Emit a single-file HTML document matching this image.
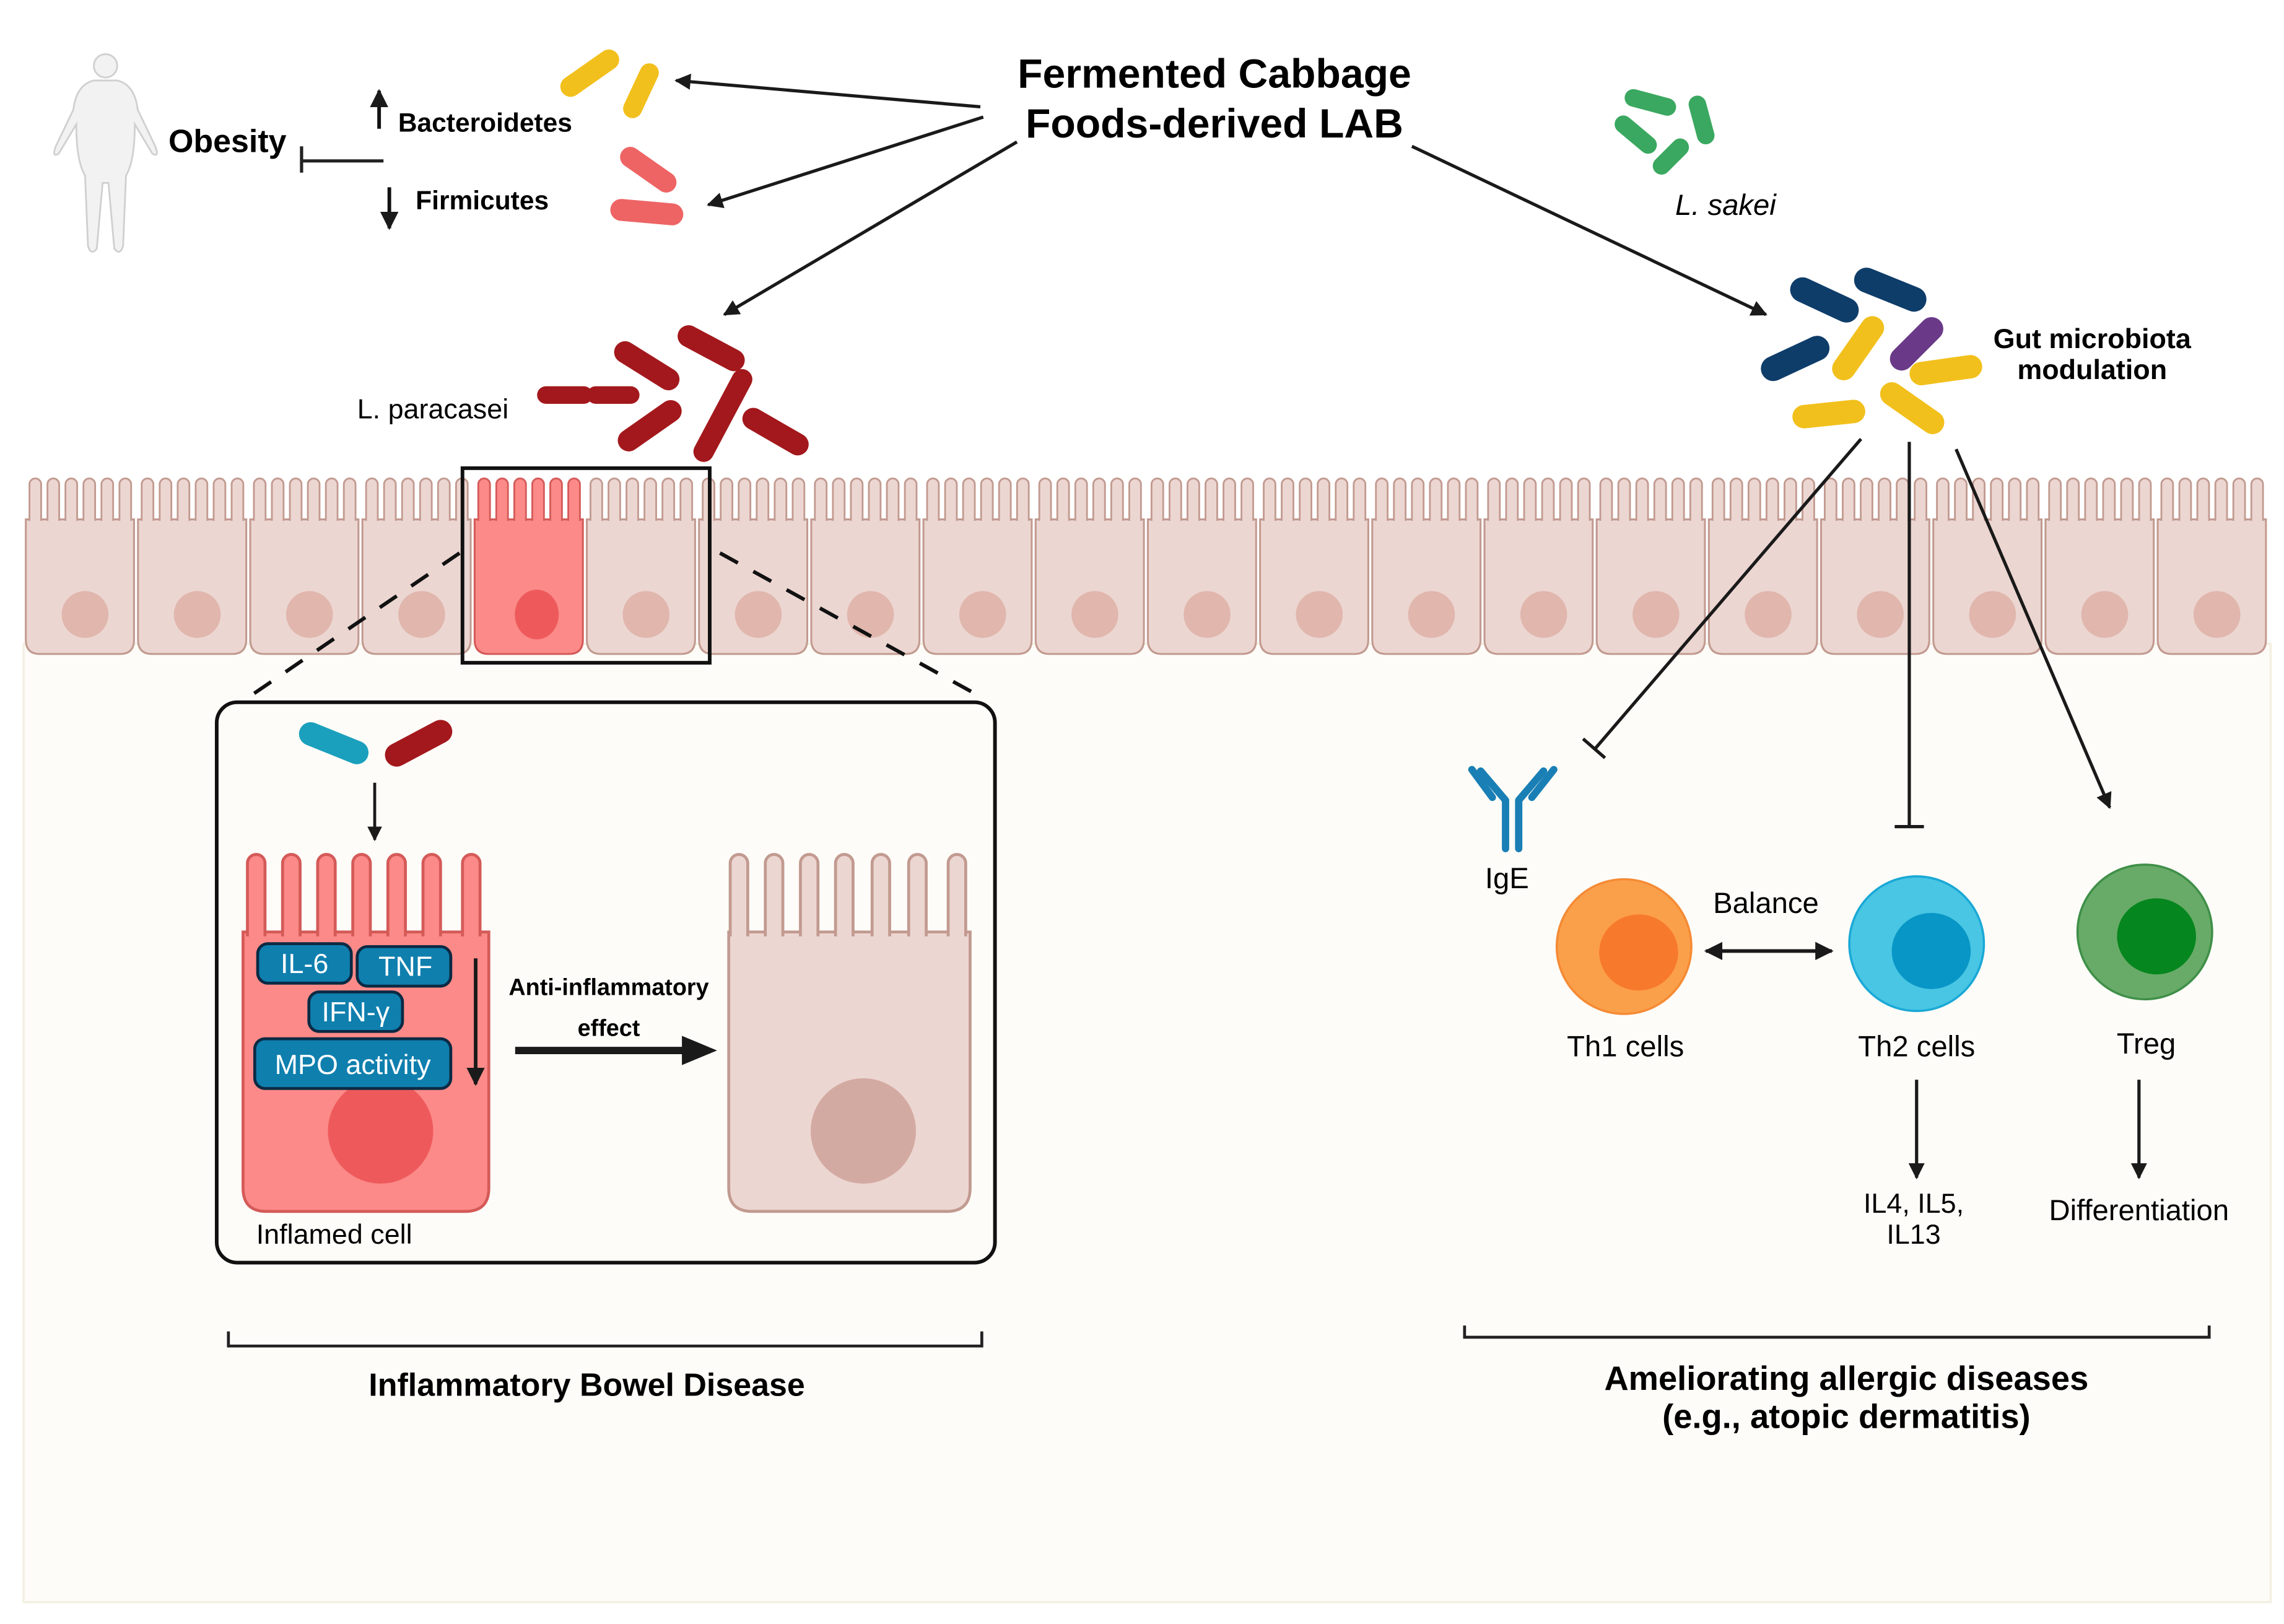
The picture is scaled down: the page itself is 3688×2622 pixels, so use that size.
<!DOCTYPE html>
<html><head><meta charset="utf-8"><style>
html,body{margin:0;padding:0;background:#fff;}
svg{display:block;}
text{font-family:"Liberation Sans","DejaVu Sans",sans-serif;}
</style></head><body>
<svg width="3688" height="2622" viewBox="0 0 1561 1110" xmlns="http://www.w3.org/2000/svg">
<defs>
<marker id="ah" viewBox="0 0 10 10" refX="9" refY="5" markerWidth="5" markerHeight="5" orient="auto-start-reverse"><path d="M0,0 L10,5 L0,10 z" fill="#1a1a1a"/></marker>
<g id="cell">
  <path d="M1.5,30 V112 Q1.5,122 11,122 H66 Q75.5,122 75.5,112 V30 Z" fill="#ecd6d1" stroke="#c29a90" stroke-width="1.3"/>
  <g fill="#ecd6d1" stroke="#c29a90" stroke-width="1.2">
    <path d="M4,31 V6 a4,4 0 0 1 8,0 V31"/>
    <path d="M16.3,31 V6 a4,4 0 0 1 8,0 V31"/>
    <path d="M28.6,31 V6 a4,4 0 0 1 8,0 V31"/>
    <path d="M40.9,31 V6 a4,4 0 0 1 8,0 V31"/>
    <path d="M53.2,31 V6 a4,4 0 0 1 8,0 V31"/>
    <path d="M65.5,31 V6 a4,4 0 0 1 8,0 V31"/>
  </g>
  <ellipse cx="42" cy="95" rx="16" ry="16" fill="#e0b6ad"/>
</g>
<g id="icell">
  <path d="M1.5,30 V112 Q1.5,122 11,122 H66 Q75.5,122 75.5,112 V30 Z" fill="#fb8a88" stroke="#d45a58" stroke-width="1.3"/>
  <g fill="#fb8a88" stroke="#d45a58" stroke-width="1.2">
    <path d="M4,31 V6 a4,4 0 0 1 8,0 V31"/>
    <path d="M16.3,31 V6 a4,4 0 0 1 8,0 V31"/>
    <path d="M28.6,31 V6 a4,4 0 0 1 8,0 V31"/>
    <path d="M40.9,31 V6 a4,4 0 0 1 8,0 V31"/>
    <path d="M53.2,31 V6 a4,4 0 0 1 8,0 V31"/>
    <path d="M65.5,31 V6 a4,4 0 0 1 8,0 V31"/>
  </g>
  <ellipse cx="44" cy="95" rx="15" ry="17" fill="#ee5a5c"/>
</g>
</defs>

<!-- lower panel -->
<rect x="16" y="440" width="1536" height="655" fill="#fdfcf8" stroke="#f3efe2" stroke-width="1.5"/>

<!-- epithelium -->
<g transform="translate(16,325)">
<use href="#cell" x="0"/><use href="#cell" x="76.7"/><use href="#cell" x="153.4"/><use href="#cell" x="230.1"/>
<use href="#icell" x="306.8"/>
<use href="#cell" x="383.5"/><use href="#cell" x="460.2"/><use href="#cell" x="536.9"/><use href="#cell" x="613.6"/><use href="#cell" x="690.3"/>
<use href="#cell" x="767"/><use href="#cell" x="843.7"/><use href="#cell" x="920.4"/><use href="#cell" x="997.1"/><use href="#cell" x="1073.8"/>
<use href="#cell" x="1150.5"/><use href="#cell" x="1227.2"/><use href="#cell" x="1303.9"/><use href="#cell" x="1380.6"/><use href="#cell" x="1457.3"/>
</g>

<!-- highlight box and dashes -->
<rect x="316" y="320" width="169" height="133" fill="none" stroke="#111" stroke-width="2.5"/>
<line x1="314" y1="378" x2="172" y2="475" stroke="#111" stroke-width="2.5" stroke-dasharray="14,12"/>
<line x1="492" y1="378" x2="668" y2="475" stroke="#111" stroke-width="2.5" stroke-dasharray="14,12"/>

<!-- inset -->
<rect x="148" y="480" width="532" height="383" rx="14" fill="#fdfcf8" stroke="#111" stroke-width="2.5"/>
<rect x="203" y="500" width="50" height="16" rx="8" fill="#1aa0bd" transform="rotate(22 228 508)"/>
<rect x="261" y="500" width="50" height="16" rx="8" fill="#a3181c" transform="rotate(-28 286 508)"/>
<line x1="256" y1="535" x2="256" y2="574" stroke="#1a1a1a" stroke-width="2" marker-end="url(#ah)"/>

<!-- inflamed cell big -->
<path d="M166,637 V812 Q166,828 182,828 H318 Q334,828 334,812 V637 Z" fill="#fb8a88" stroke="#d45a58" stroke-width="2"/>
<g fill="#fb8a88" stroke="#d45a58" stroke-width="2">
<path d="M169,640 V590 a6,6 0 0 1 12,0 V640"/>
<path d="M193,640 V590 a6,6 0 0 1 12,0 V640"/>
<path d="M217,640 V590 a6,6 0 0 1 12,0 V640"/>
<path d="M241,640 V590 a6,6 0 0 1 12,0 V640"/>
<path d="M265,640 V590 a6,6 0 0 1 12,0 V640"/>
<path d="M289,640 V590 a6,6 0 0 1 12,0 V640"/>
<path d="M316,640 V590 a6,6 0 0 1 12,0 V640"/>
</g>
<circle cx="260" cy="773" r="36" fill="#ee5a5c"/>
<g stroke="#0b2a44" stroke-width="2" fill="#0f7fae">
<rect x="176" y="645" width="64" height="27" rx="7"/>
<rect x="244" y="647" width="64" height="27" rx="7"/>
<rect x="211" y="678" width="64" height="27" rx="7"/>
<rect x="174" y="710" width="134" height="34" rx="7"/>
</g>
<g fill="#fff" font-size="19" text-anchor="middle">
<text x="208" y="665">IL-6</text>
<text x="277" y="667">TNF</text>
<text x="243" y="698">IFN-γ</text>
<text x="241" y="734">MPO activity</text>
</g>
<line x1="325" y1="655" x2="325" y2="741" stroke="#1a1a1a" stroke-width="2.5" marker-end="url(#ah)"/>
<text x="416" y="680" font-size="16" font-weight="bold" text-anchor="middle">Anti-inflammatory</text>
<text x="416" y="708" font-size="16" font-weight="bold" text-anchor="middle">effect</text>
<line x1="352" y1="718" x2="470" y2="718" stroke="#1a1a1a" stroke-width="5"/>
<path d="M466,708 L490,718 L466,728 z" fill="#1a1a1a"/>

<!-- healthy big cell -->
<path d="M498,637 V812 Q498,828 514,828 H647 Q663,828 663,812 V637 Z" fill="#ecd6d1" stroke="#c29a90" stroke-width="2"/>
<g fill="#ecd6d1" stroke="#c29a90" stroke-width="2">
<path d="M499,640 V590 a6,6 0 0 1 12,0 V640"/>
<path d="M523,640 V590 a6,6 0 0 1 12,0 V640"/>
<path d="M547,640 V590 a6,6 0 0 1 12,0 V640"/>
<path d="M571,640 V590 a6,6 0 0 1 12,0 V640"/>
<path d="M596,640 V590 a6,6 0 0 1 12,0 V640"/>
<path d="M621,640 V590 a6,6 0 0 1 12,0 V640"/>
<path d="M648,640 V590 a6,6 0 0 1 12,0 V640"/>
</g>
<circle cx="590" cy="773" r="36" fill="#d3aaa2"/>
<text x="175" y="850" font-size="19">Inflamed cell</text>

<!-- IBD bracket -->
<path d="M156,910 V920 H671 V910" fill="none" stroke="#222" stroke-width="2"/>
<text x="401" y="954" font-size="22" font-weight="bold" text-anchor="middle">Inflammatory Bowel Disease</text>

<!-- human -->
<g fill="#f2f2f2" stroke="#d0d0d0" stroke-width="1.2">
<circle cx="72" cy="45" r="8"/>
<path d="M64,55 Q52,58 50,75 L38,100 Q35,108 40,105 L52,85 Q52,110 58,120 L60,168 Q62,175 66,170 L70,125 L74,125 L78,170 Q82,175 84,168 L86,120 Q92,110 92,85 L104,105 Q109,108 106,100 L94,75 Q92,58 80,55 Z"/>
</g>
<text x="115" y="104" font-size="22" font-weight="bold">Obesity</text>
<path d="M206,100 V118 M206,110 H262" stroke="#222" stroke-width="2.2" fill="none"/>
<line x1="259" y1="88" x2="259" y2="62" stroke="#111" stroke-width="2.5" marker-end="url(#ah)"/>
<text x="272" y="90" font-size="18" font-weight="bold">Bacteroidetes</text>
<line x1="266" y1="128" x2="266" y2="156" stroke="#111" stroke-width="2.5" marker-end="url(#ah)"/>
<text x="284" y="143" font-size="18" font-weight="bold">Firmicutes</text>

<!-- top bacteria -->
<rect x="380" y="43" width="46" height="14" rx="7" fill="#f2c01c" transform="rotate(-35 403 50)"/>
<rect x="418" y="55.5" width="40" height="13" rx="6.5" fill="#f2c01c" transform="rotate(-65 438 62)"/>
<rect x="421" y="109" width="44" height="14" rx="7" fill="#ee6464" transform="rotate(35 443 116)"/>
<rect x="417" y="137.5" width="50" height="15" rx="7.5" fill="#ee6464" transform="rotate(5 442 145)"/>

<text x="830" y="60" font-size="28" font-weight="bold" text-anchor="middle">Fermented Cabbage</text>
<text x="830" y="94" font-size="28" font-weight="bold" text-anchor="middle">Foods-derived LAB</text>
<g stroke="#1a1a1a" stroke-width="2.2" marker-end="url(#ah)">
<line x1="670" y1="73" x2="462" y2="55"/>
<line x1="672" y1="80" x2="484" y2="140"/>
<line x1="695" y1="97" x2="495" y2="215"/>
<line x1="965" y1="100" x2="1207" y2="215"/>
</g>

<!-- L. paracasei -->
<g fill="#a3181c">
<rect x="367" y="264" width="38" height="12" rx="6"/>
<rect x="401" y="264" width="36" height="12" rx="6"/>
<rect x="417" y="242.5" width="50" height="15" rx="7.5" transform="rotate(32 442 250)"/>
<rect x="461" y="230.5" width="50" height="15" rx="7.5" transform="rotate(28 486 238)"/>
<rect x="419" y="283.5" width="50" height="15" rx="7.5" transform="rotate(-35 444 291)"/>
<rect x="459" y="277" width="70" height="14" rx="7" transform="rotate(-62 494 284)"/>
<rect x="505" y="287.5" width="50" height="15" rx="7.5" transform="rotate(30 530 295)"/>
</g>
<text x="244" y="286" font-size="19">L. paracasei</text>

<!-- L. sakei -->
<g fill="#3aa860">
<rect x="1110" y="64" width="36" height="12" rx="6" transform="rotate(15 1128 70)"/>
<rect x="1146" y="76" width="34" height="12" rx="6" transform="rotate(75 1163 82)"/>
<rect x="1101" y="86" width="34" height="12" rx="6" transform="rotate(40 1118 92)"/>
<rect x="1127" y="101" width="30" height="12" rx="6" transform="rotate(-45 1142 107)"/>
</g>
<text x="1145" y="147" font-size="20" font-style="italic">L. sakei</text>

<!-- gut cluster -->
<rect x="1222" y="196.5" width="50" height="17" rx="8.5" fill="#0f3d6a" transform="rotate(25 1247 205)"/>
<rect x="1266" y="189.5" width="52" height="17" rx="8.5" fill="#0f3d6a" transform="rotate(22 1292 198)"/>
<rect x="1202" y="236.5" width="50" height="17" rx="8.5" fill="#0f3d6a" transform="rotate(-25 1227 245)"/>
<rect x="1245" y="230" width="50" height="16" rx="8" fill="#f2c01c" transform="rotate(-55 1270 238)"/>
<rect x="1287.5" y="227" width="45" height="16" rx="8" fill="#6a3a88" transform="rotate(-45 1310 235)"/>
<rect x="1305" y="245" width="50" height="16" rx="8" fill="#f2c01c" transform="rotate(-8 1330 253)"/>
<rect x="1225" y="275" width="50" height="16" rx="8" fill="#f2c01c" transform="rotate(-6 1250 283)"/>
<rect x="1282" y="271" width="50" height="16" rx="8" fill="#f2c01c" transform="rotate(35 1307 279)"/>
<text x="1430" y="238" font-size="19" font-weight="bold" text-anchor="middle">Gut microbiota</text>
<text x="1430" y="259" font-size="19" font-weight="bold" text-anchor="middle">modulation</text>

<g stroke="#1a1a1a" stroke-width="2.2" fill="none">
<line x1="1272" y1="300" x2="1090" y2="512"/>
<line x1="1082" y1="505" x2="1097" y2="518"/>
<line x1="1305" y1="302" x2="1305" y2="565"/>
<line x1="1295" y1="565" x2="1315" y2="565"/>
<line x1="1337" y1="307" x2="1442" y2="552" marker-end="url(#ah)"/>
</g>

<!-- IgE -->
<g stroke="#1a7fb5" stroke-width="5" stroke-linecap="round" fill="none">
<line x1="1029" y1="548" x2="1029" y2="580"/>
<line x1="1038" y1="548" x2="1038" y2="580"/>
<line x1="1029" y1="547" x2="1012" y2="527"/>
<line x1="1038" y1="547" x2="1055" y2="527"/>
<line x1="1020" y1="545" x2="1006" y2="526"/>
<line x1="1047" y1="545" x2="1062" y2="526"/>
</g>
<text x="1030" y="607" font-size="20" text-anchor="middle">IgE</text>

<!-- T cells -->
<circle cx="1110" cy="647" r="46" fill="#fba04a" stroke="#f58a34" stroke-width="1.5"/>
<ellipse cx="1120" cy="651" rx="27" ry="26" fill="#f77a2c"/>
<circle cx="1310" cy="645" r="46" fill="#48c6e4" stroke="#1aa8d6" stroke-width="1.5"/>
<ellipse cx="1320" cy="650" rx="27" ry="26" fill="#0896c6"/>
<circle cx="1466" cy="637" r="46" fill="#68ab68" stroke="#3f8f48" stroke-width="1.5"/>
<ellipse cx="1474" cy="640" rx="27" ry="26" fill="#06861e"/>
<text x="1207" y="624" font-size="20" text-anchor="middle">Balance</text>
<line x1="1166" y1="650" x2="1252" y2="650" stroke="#1a1a1a" stroke-width="2.5" marker-start="url(#ah)" marker-end="url(#ah)"/>
<text x="1111" y="722" font-size="20" text-anchor="middle">Th1 cells</text>
<text x="1310" y="722" font-size="20" text-anchor="middle">Th2 cells</text>
<text x="1467" y="720" font-size="20" text-anchor="middle">Treg</text>
<line x1="1310" y1="738" x2="1310" y2="805" stroke="#1a1a1a" stroke-width="2.2" marker-end="url(#ah)"/>
<line x1="1462" y1="738" x2="1462" y2="805" stroke="#1a1a1a" stroke-width="2.2" marker-end="url(#ah)"/>
<text x="1308" y="829" font-size="19" text-anchor="middle">IL4, IL5,</text>
<text x="1308" y="850" font-size="19" text-anchor="middle">IL13</text>
<text x="1462" y="834" font-size="20" text-anchor="middle">Differentiation</text>

<path d="M1001,906 V914 H1510 V906" fill="none" stroke="#222" stroke-width="2"/>
<text x="1262" y="950" font-size="23" font-weight="bold" text-anchor="middle">Ameliorating allergic diseases</text>
<text x="1262" y="976" font-size="23" font-weight="bold" text-anchor="middle">(e.g., atopic dermatitis)</text>
</svg>
</body></html>
